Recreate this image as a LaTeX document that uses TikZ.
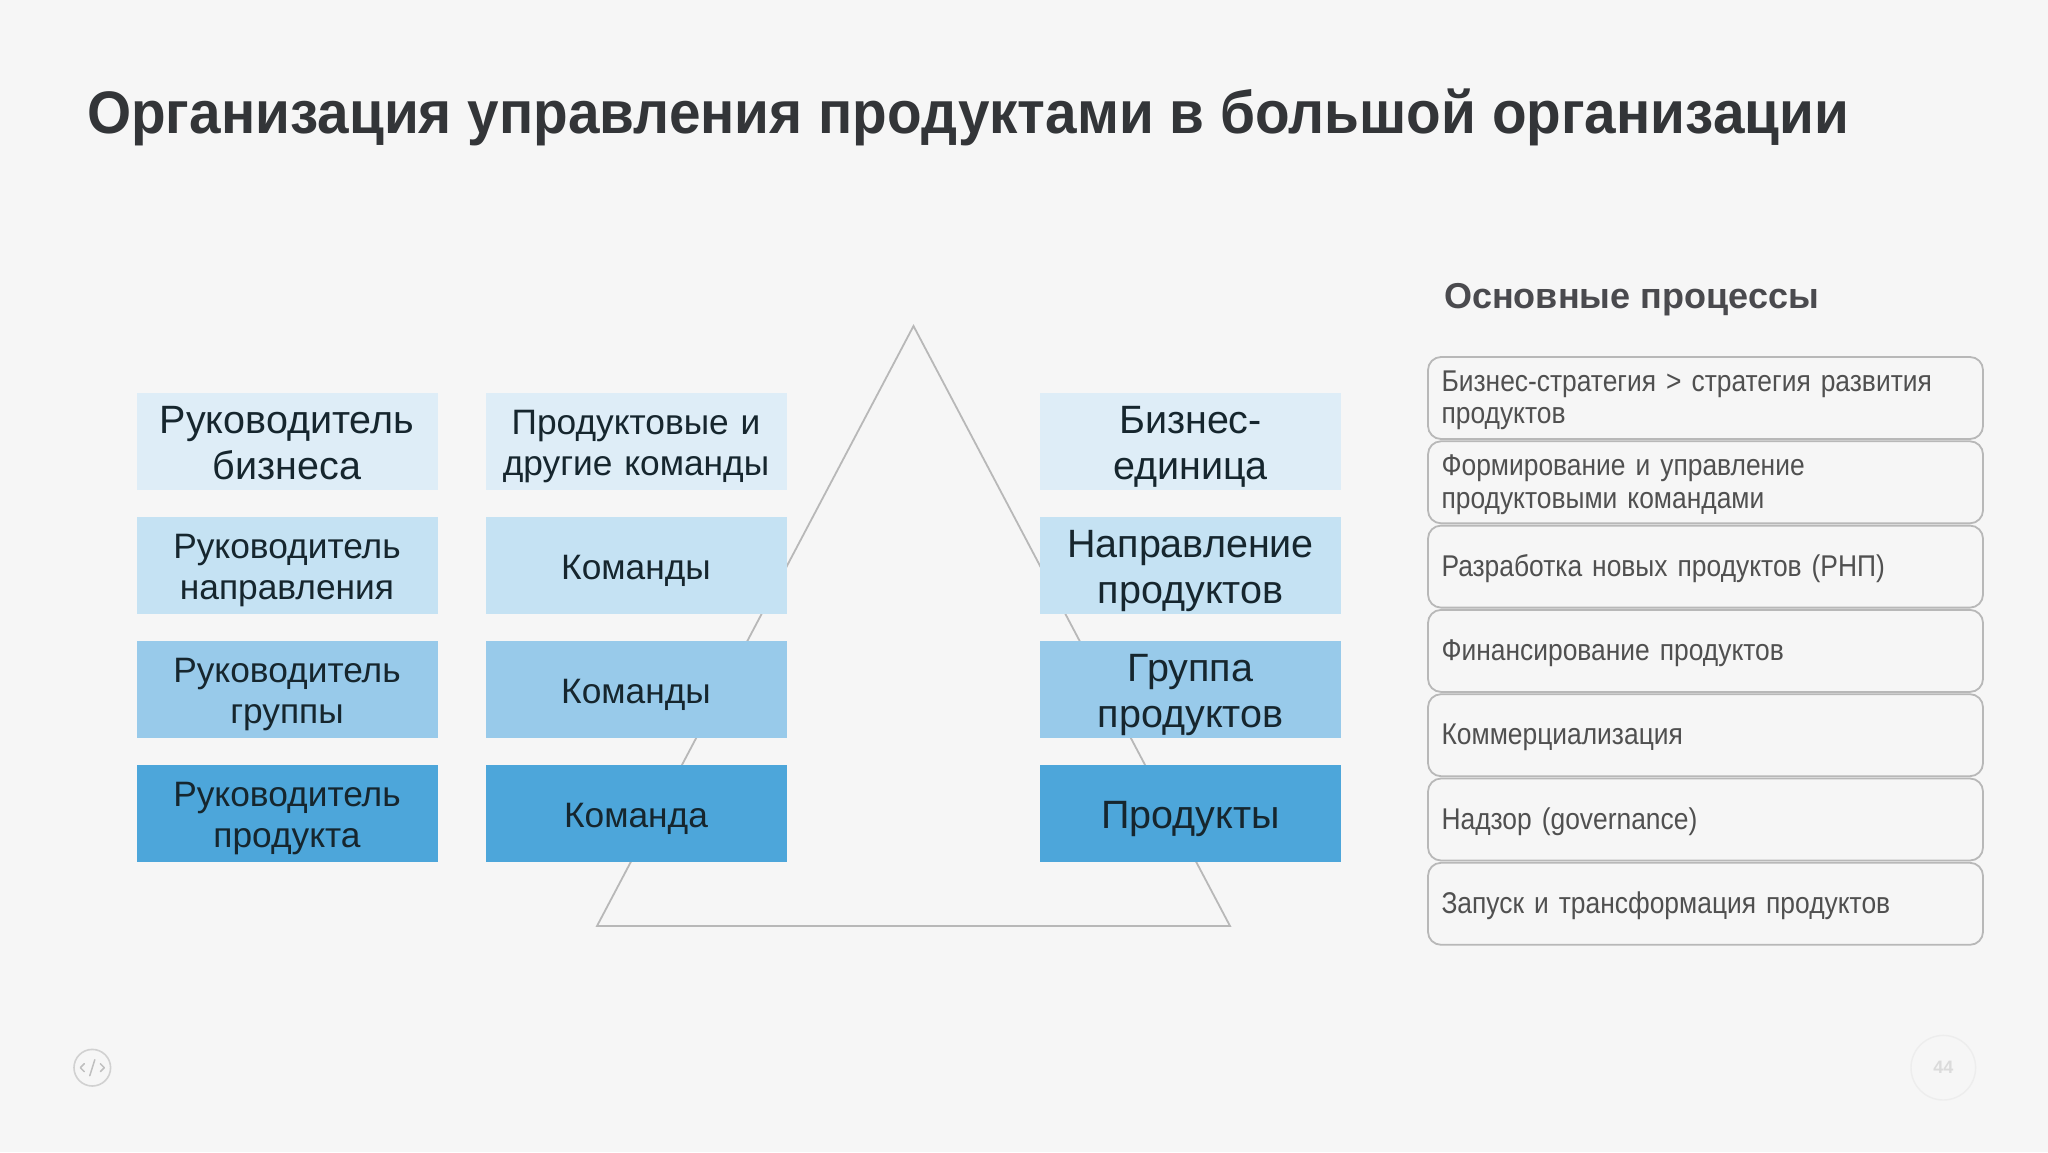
\documentclass[tikz,border=0pt]{standalone}
\usepackage{fontspec}
\setmainfont{Liberation Sans}
\newfontfamily\condf[FakeStretch=0.88,WordSpace=0.75]{Liberation Sans}
\newfontfamily\titlef[FakeStretch=0.945]{Liberation Sans}
\definecolor{bgc}{HTML}{F6F6F6}
\definecolor{rowa}{HTML}{DEEDF7}
\definecolor{rowb}{HTML}{C5E2F3}
\definecolor{rowc}{HTML}{98CAEA}
\definecolor{rowd}{HTML}{4DA6DA}
\definecolor{inkd}{HTML}{16262E}
\definecolor{titlec}{HTML}{333538}
\definecolor{subc}{HTML}{4A4A4E}
\definecolor{procc}{HTML}{505050}
\definecolor{edgec}{HTML}{B8B8B8}
\tikzset{
  x=1pt,y=-1pt,
  cellbox/.style={rectangle,inner sep=0pt,minimum width=301pt,minimum height=97pt},
  celltext/.style={inner sep=0pt,text width=295pt,align=center,text=inkd,yshift=-6pt},
  bigt/.style={font=\fontsize{39.5}{46}\selectfont},
  midt/.style={font=\fontsize{35.3}{41}\selectfont},
  procbox/.style={rectangle,rounded corners=13pt,draw=edgec,line width=1.8pt,inner sep=0pt,minimum width=555pt,minimum height=82pt},
  proctext/.style={inner sep=0pt,text width=528pt,align=left,text=procc,yshift=-3pt,font=\condf\fontsize{30}{32.5}\selectfont},
}
% name, position, box options, text options, text
\newcommand\cellnode[5]{\node[#3,label={[name=#1t,#4]center:{\strut #5\strut}}] (#1) at (#2) {};}
\begin{document}
\begin{tikzpicture}
\useasboundingbox (0,0) rectangle (2048,1152);
\fill[bgc] (0,0) rectangle (2048,1152);
\node[anchor=base west,inner sep=0pt,font=\titlef\bfseries\fontsize{60}{60}\selectfont,text=titlec] (title) at (87,133) {Организация управления продуктами в большой организации};
\coordinate (apex) at (913.5,326);
\coordinate (bl) at (597,926);
\coordinate (br) at (1230,926);
\draw[edgec,line width=1.8pt,line join=miter] (apex) -- (br) -- (bl) -- cycle;
% left column
\cellnode{l1}{287,441}{cellbox,fill=rowa}{celltext,bigt}{Руководитель\\бизнеса}
\cellnode{l2}{287,565}{cellbox,fill=rowb}{celltext,midt}{Руководитель\\направления}
\cellnode{l3}{287,689}{cellbox,fill=rowc}{celltext,midt}{Руководитель\\группы}
\cellnode{l4}{287,813}{cellbox,fill=rowd}{celltext,midt}{Руководитель\\продукта}
% middle column
\cellnode{m1}{636,441}{cellbox,fill=rowa}{celltext,midt}{Продуктовые и\\другие команды}
\cellnode{m2}{636,565}{cellbox,fill=rowb}{celltext,midt}{Команды}
\cellnode{m3}{636,689}{cellbox,fill=rowc}{celltext,midt}{Команды}
\cellnode{m4}{636,813}{cellbox,fill=rowd}{celltext,midt}{Команда}
% right column
\cellnode{r1}{1190.5,441}{cellbox,fill=rowa}{celltext,bigt}{Бизнес-\\единица}
\cellnode{r2}{1190.5,565}{cellbox,fill=rowb}{celltext,bigt}{Направление\\продуктов}
\cellnode{r3}{1190.5,689}{cellbox,fill=rowc}{celltext,bigt}{Группа\\продуктов}
\cellnode{r4}{1190.5,813}{cellbox,fill=rowd}{celltext,bigt}{Продукты}
% processes
\node[anchor=base west,inner sep=0pt,font=\bfseries\fontsize{36}{36}\selectfont,text=subc] (sub) at (1444,308) {Основные процессы};
\cellnode{p1}{1705.5,398}{procbox}{proctext}{Бизнес-стратегия > стратегия развития\\продуктов}
\cellnode{p2}{1705.5,482.3}{procbox}{proctext}{Формирование и управление\\продуктовыми командами}
\cellnode{p3}{1705.5,566.6}{procbox}{proctext}{Разработка новых продуктов (РНП)}
\cellnode{p4}{1705.5,650.9}{procbox}{proctext}{Финансирование продуктов}
\cellnode{p5}{1705.5,735.2}{procbox}{proctext}{Коммерциализация}
\cellnode{p6}{1705.5,819.5}{procbox}{proctext}{Надзор (governance)}
\cellnode{p7}{1705.5,903.8}{procbox}{proctext}{Запуск и трансформация продуктов}
% footer
\node[circle,draw=black!18,line width=1.6pt,minimum size=36.6pt,inner sep=0pt] (logo) at (92.3,1067.7) {};
\draw[black!25,line width=1.5pt,line cap=round,line join=round]
  ([shift={(-8,-4)}]logo.center) -- ([shift={(-12,0)}]logo.center) -- ([shift={(-8,4)}]logo.center)
  ([shift={(8,-4)}]logo.center) -- ([shift={(12,0)}]logo.center) -- ([shift={(8,4)}]logo.center)
  ([shift={(2.5,-8)}]logo.center) -- ([shift={(-2.5,8)}]logo.center);
\node[circle,draw=black!7,line width=1.4pt,minimum size=64.6pt,inner sep=0pt,text=black!14,font=\bfseries\fontsize{18}{18}\selectfont] (page) at (1943.3,1067.7) {44};
\end{tikzpicture}
\end{document}
